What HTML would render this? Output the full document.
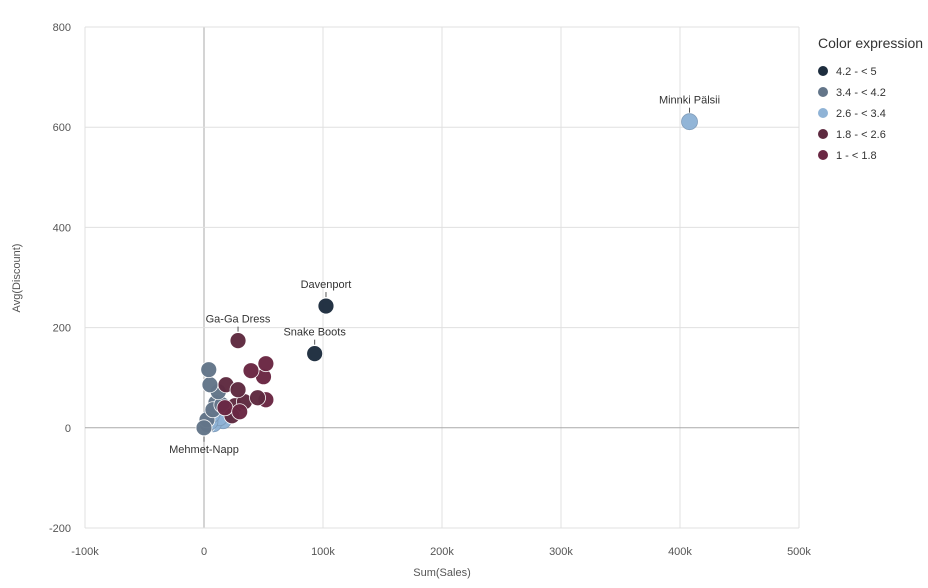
<!DOCTYPE html>
<html><head><meta charset="utf-8"><style>
body{margin:0;background:#fff;font-family:"Liberation Sans",sans-serif}
svg text{font-family:"Liberation Sans",sans-serif}
</style></head><body>
<svg id="chart" width="928" height="583"></svg>
<script>
const xTicks=[-100000,0,100000,200000,300000,400000,500000];
const xTickLabels=["-100k","0","100k","200k","300k","400k","500k"];
const yTicks=[-200,0,200,400,600,800];
const pointNames=["Minnki Pälsii","Davenport","Snake Boots","Ga-Ga Dress","Mehmet-Napp","","","","","","","","","","","","","","","","","","","","","","","","","","","",""];
const pointSales=[408000,102500,93000,28600,0,39500,52000,50000,28600,45000,52000,30000,18500,34000,17600,23500,4000,5000,12000,15000,7500,2500,6500,12000,5000,13000,9000,3000,8000,16000,10000,20000,26000];
const pointDiscount=[611,243,148,174,0,114,128,102,76,60,56,32,86,52,40,24,116,86,72,46,36,16,26,40,12,20,30,6,8,14,50,30,44];
const pointGroup=[2,0,0,3,1,4,4,4,3,3,4,4,3,3,4,3,1,1,1,1,1,1,2,2,2,2,2,1,2,2,1,2,3];
const groupLabels=["4.2 - < 5","3.4 - < 4.2","2.6 - < 3.4","1.8 - < 2.6","1 - < 1.8"];
const groupColors=["#1d2d3e","#637589","#8fb3d6","#5e2a40","#6a2743"];
const NS="http://www.w3.org/2000/svg";
const svg=document.getElementById('chart');
const X0=85,X1=799,Y0=528,Y1=27;
const xs=v=>X0+(v-(-100000))/600000*(X1-X0);
const ys=v=>Y0-(v-(-200))/1000*(Y0-Y1);
function mk(t,a,p){const e=document.createElementNS(NS,t);for(const k in a)e.setAttribute(k,a[k]);(p||svg).appendChild(e);return e;}
xTicks.forEach((t,i)=>{
 const l=mk('line',{x1:xs(t),x2:xs(t),y1:Y1,y2:Y0,stroke:t===0?'#aaa':'#e0e0e0','stroke-width':1});
 
 
 const tx=mk('text',{x:xs(t),y:555,'font-size':11,fill:'#555','text-anchor':'middle'});tx.textContent=xTickLabels[i];
 
 
});
yTicks.forEach(t=>{
 const l=mk('line',{x1:X0,x2:X1,y1:ys(t),y2:ys(t),stroke:t===0?'#aaa':'#e0e0e0','stroke-width':1});
 
 
 const tx=mk('text',{x:71,y:ys(t)+4,'font-size':11,fill:'#555','text-anchor':'end'});tx.textContent=t;
 
 
});
const xt=mk('text',{x:442,y:576,'font-size':11,fill:'#555','text-anchor':'middle'});xt.textContent='Sum(Sales)';


const yt=mk('text',{x:0,y:0,'font-size':11,fill:'#555','text-anchor':'middle',transform:'translate(20,278) rotate(-90)'});yt.textContent='Avg(Discount)';


for(let i=pointSales.length-1;i>=0;i--){
 const c=mk('circle',{cx:xs(pointSales[i]),cy:ys(pointDiscount[i]),r:8,fill:groupColors[pointGroup[i]],stroke:pointGroup[i]===2?'#7d9ab8':'#fff','stroke-width':0.8,opacity:0.97});
 
 
}
pointNames.forEach((n,i)=>{
 if(!n)return;
 const cx=xs(pointSales[i]),cy=ys(pointDiscount[i]);
 const below=i===4;
 mk('line',{x1:cx,x2:cx,y1:below?cy+9:cy-9,y2:below?cy+14:cy-14,stroke:'#555'});
 const t=mk('text',{x:cx,y:below?cy+25:cy-18,'font-size':11,fill:'#333','text-anchor':'middle'});t.textContent=n;
 
 
});
const lt=mk('text',{x:818,y:48,'font-size':14,fill:'#333'});lt.textContent='Color expression';


groupLabels.forEach((g,i)=>{
 const y=71+i*21;
 const c=mk('circle',{cx:823,cy:y,r:5,fill:groupColors[i]});
 
 
 const t=mk('text',{x:836,y:y+4,'font-size':11,fill:'#333'});t.textContent=g;
 
 
});
</script>
</body></html>
